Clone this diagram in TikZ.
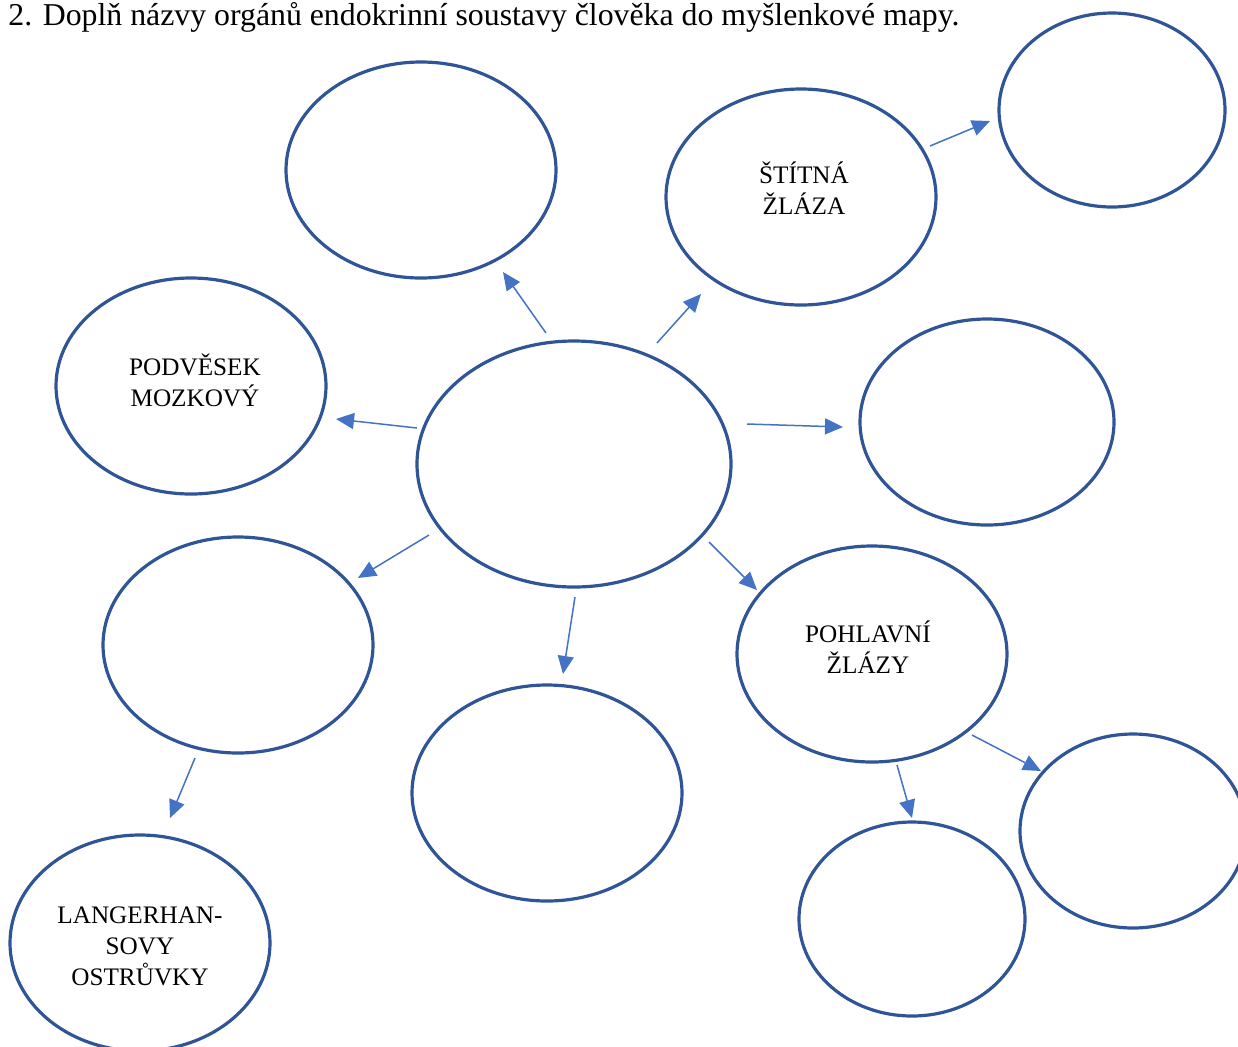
\documentclass[tikz,border=0pt]{standalone}
\usepackage{fontspec}
\setmainfont{Liberation Serif}
\usetikzlibrary{shapes.geometric,arrows.meta,calc}
\definecolor{elblue}{HTML}{2F5597}
\definecolor{arblue}{HTML}{4472C4}
\begin{document}
\begin{tikzpicture}[x=0.5pt,y=-0.5pt,
  org/.style={ellipse, draw=elblue, line width=1.6pt, inner sep=0pt},
  big/.style={org, minimum width=135pt, minimum height=108pt},
  small/.style={org, minimum width=113pt, minimum height=97pt},
  lbl/.style={font=\fontsize{12.6}{15.5}\selectfont, align=center, inner sep=0pt},
  arr/.style={draw=arblue, line width=0.75pt, -{Triangle[length=9pt,width=8pt]}}
]
\useasboundingbox (0,0) rectangle (1238,1046);
\clip (0,0) rectangle (1238,1046);

\node[anchor=base west, inner sep=0pt, font=\fontsize{15.9}{18}\selectfont] (title) at (8,25)
  {2. Doplň názvy orgánů endokrinní soustavy člověka do myšlenkové mapy.};

% ellipses
\node[org, minimum width=157pt, minimum height=123pt] (c) at (574,464) {};
\node[big] (tl) at (421,170) {};
\node[big] (st) at (801,197) {};
\node[small] (tr) at (1112,110) {};
\node[big] (pod) at (191,386) {};
\node[org, minimum width=127pt, minimum height=103pt] (r) at (987,422) {};
\node[big] (ll) at (238,645) {};
\node[big] (b) at (547,793) {};
\node[big] (poh) at (872,654) {};
\node[org, minimum width=130pt, minimum height=108pt] (lan) at (140,943) {};
\node[small] (br) at (912,919) {};
\node[small] (fr) at (1133,831) {};

% labels
\node[lbl] (stt) at ($(st)+(3,-9)$) {ŠTÍTNÁ\\ŽLÁZA};
\node[lbl] (podt) at ($(pod)+(4,-6)$) {PODVĚSEK\\MOZKOVÝ};
\node[lbl] (poht) at ($(poh)+(-4,-7)$) {POHLAVNÍ\\ŽLÁZY};
\node[lbl] (lant) at ($(lan)+(0,3)$) {LANGERHAN-\\SOVY\\OSTRŮVKY};

% arrows
\draw[arr] ($(c)+(-28,-131)$) -- ($(tl)+(82,102)$);
\draw[arr] ($(c)+(83,-121)$) -- ($(st)+(-100,97)$);
\draw[arr] ($(st)+(129,-51)$) -- ($(tr)+(-122,11)$);
\draw[arr] ($(c)+(-157,-36)$) -- ($(pod)+(145,33)$);
\draw[arr] ($(c)+(173,-40)$) -- ($(r)+(-144,5)$);
\draw[arr] ($(c)+(-145,71)$) -- ($(ll)+(120,-67)$);
\draw[arr] ($(c)+(1,133)$) -- ($(b)+(16,-119)$);
\draw[arr] ($(c)+(135,78)$) -- ($(poh)+(-115,-64)$);
\draw[arr] ($(ll)+(-43,113)$) -- ($(lan)+(30,-125)$);
\draw[arr] ($(poh)+(25,111)$) -- ($(br)+(0,-101)$);
\draw[arr] ($(poh)+(100,81)$) -- ($(fr)+(-92,-60)$);
\end{tikzpicture}
\end{document}
